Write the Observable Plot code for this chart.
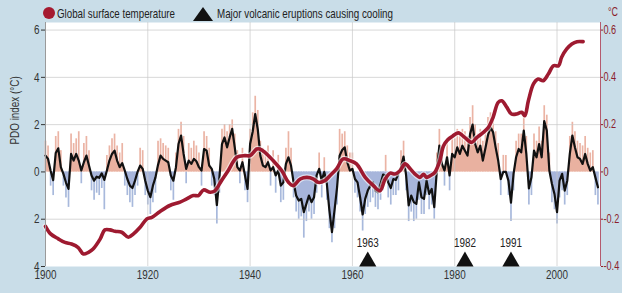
<!DOCTYPE html>
<html><head><meta charset="utf-8">
<script src="https://cdn.jsdelivr.net/npm/d3@7"></script>
<script src="https://cdn.jsdelivr.net/npm/@observablehq/plot@0.6"></script>
<style>
html,body{margin:0;padding:0;background:#c9dde8;}
#wrap{position:relative;width:622px;height:293px;overflow:hidden;}
#chart{position:absolute;left:0;top:0;}
#legend{position:absolute;left:0;top:0;font-family:"Liberation Sans",Arial,sans-serif;font-size:13px;}
</style></head><body>
<div id="wrap">
  <div id="chart"></div>
  <svg id="legend" width="622" height="22">
    <circle cx="49" cy="13" r="6" fill="#a5192f"></circle>
    <text x="57" y="18" fill="#222" textLength="118" lengthAdjust="spacingAndGlyphs">Global surface temperature</text>
    <polygon points="193,21 213,21 203,7" fill="#111"></polygon>
    <text x="217" y="18" fill="#222" textLength="176" lengthAdjust="spacingAndGlyphs">Major volcanic eruptions causing cooling</text>
    <text x="608" y="16" fill="#8b1d2c" textLength="10" lengthAdjust="spacingAndGlyphs">°C</text>
  </svg>
</div>
<script>
// ---- data ----
const pdoStart = 1900;      // first half-year sample
const pdoStep = 0.5;        // half-year samples
const pdoSmooth = [
  0.69,0.55, 0.05,-0.35, 0.8,1.0, 0.2,-0.08, -0.45,-0.72,
  0.76,0.48, 0.76,0.48, 0.06,0.41, 0.69,0.27, -0.15,-0.37,
  -0.2,-0.25, -0.06,-0.34, 0.06,0.48, 0.76,0.9, 0.48,0.2,
  0.37,0.06, -0.3,-0.58, -0.68,-0.37, 0.0,0.27, 0.13,-0.37,
  -0.79,-1.07, -0.58,-0.23, 0.3,0.69, 0.55,0.48, 0.41,-0.15,
  -0.37,0.2, 1.18,1.54, 0.76,0.13, 0.48,0.34, 0.55,0.45,
  0.2,0.06, 0.97,0.9, 0.27,0.13, -0.3,-1.4, -0.23,1.18,
  1.46,1.04, 1.46,1.82, 1.04,0.2, 0.06,0.41, -0.15,-0.72,
  1.18,1.7, 2.45,1.8, 0.69,0.27, 0.2,0.41, 0.06,0.2,
  -0.15,0.06, -0.58,-0.44, 0.34,0.62, 0.27,-0.44, -1.0,-1.21,
  -1.14,-1.7, -1.35,-1.0, -1.28,-1.07, -0.15,0.13, -0.37,0.0,
  -0.5,-1.63, -2.55,-1.63, -0.65,0.69, 0.93,1.04, 0.41,0.06,
  0.13,-0.3, -0.44,-1.07, -1.8,-1.14, -0.79,-0.58, -0.44,-0.79,
  -0.86,-0.5, -0.11,-0.15, -0.44,-0.68, -0.3,-0.34, -0.06,0.2,
  0.65,-0.15, -1.42,-1.0, -1.28,-1.35, -0.44,-1.07, -1.14,-0.37,
  -0.93,-0.72, -1.49,0.06, 1.11,0.34, 0.06,0.62, -0.15,0.76,
  0.62,1.04, 0.76,1.11, 0.9,0.69, 1.6,2.0, 1.18,0.83,
  1.11,0.48, 1.0,1.55, 1.89,1.68, 1.04,0.48, -0.3,0.0,
  0.0,-0.37, -1.3,-0.08, 0.62,0.97, 0.83,1.75, 0.76,-0.7,
  -0.23,0.9, 0.62,1.18, 0.62,2.15, 1.75,0.06, -0.5,-0.93,
  -1.7,-0.37, -0.08,-0.79, -0.37,0.76, 1.54,1.04, 0.62,0.55,
  0.34,0.76, 0.34,0.06, 0.2,-0.23, -0.65
];
const pdoMonthlyPeaks = [
  1.3,1.1, -0.6,-1.0, 1.5,1.7, 0.9,-0.6, -1.1,-1.5,
  1.6,1.2, 1.4,1.7, -0.5,1.2, 1.5,0.9, -0.8,-1.2,
  -0.9,-1.0, -0.7,-1.6, 0.7,1.1, 1.4,1.6, 1.1,0.8,
  1.2,-0.6, -1.0,-1.3, -1.5,-1.0, -0.6,1.0, 0.9,-1.0,
  -1.4,-1.8, -1.3,-0.9, 1.3,1.4, 1.2,1.1, 1.0,-0.8,
  -1.2,0.8, 1.8,2.1, 1.5,-0.5, 1.2,1.0, 1.3,1.1,
  0.8,-0.6, 1.7,1.5, 1.0,-0.6, -1.0,-2.2, -0.9,1.8,
  2.0,1.7, 2.0,2.2, 1.6,0.9, -0.5,1.0, -0.8,-1.3,
  1.8,2.5, 3.2,2.6, 1.3,1.0, 0.9,1.1, -0.6,0.9,
  -0.9,0.7, -1.3,-1.2, 1.0,1.7, 1.0,-1.1, -1.7,-2.0,
  -1.9,-2.8, -2.1,-1.7, -2.0,-1.8, -0.9,0.8, -1.1,0.6,
  -1.2,-2.4, -3.0,-2.4, -1.4,1.8, 1.6,1.7, 1.1,0.8,
  0.8,-0.9, -1.1,-1.7, -2.5,-1.8, -1.5,-1.3, -1.1,-1.5,
  -1.6,-1.2, -0.8,0.7, -1.1,-1.4, -1.0,-1.0, -0.8,0.9,
  1.3,-0.8, -2.1,-1.7, -2.1,-2.0, -1.2,-1.8, -1.8,-1.0,
  -1.6,-1.4, -2.0,0.8, 1.8,1.0, -0.6,1.4, -0.8,1.5,
  1.4,1.8, 1.6,1.8, 1.7,1.5, 2.3,2.8, 2.0,1.6,
  1.8,1.3, 1.7,2.3, 2.5,2.3, 1.7,1.2, -1.0,0.7,
  0.7,-1.0, -2.1,-0.8, 1.3,1.6, 1.6,2.5, 1.5,-1.4,
  -1.0,1.6, 1.3,1.9, 1.3,2.8, 2.4,0.8, -1.3,-1.6,
  -2.2,-1.1, -0.8,-1.4, -1.0,1.5, 2.1,1.7, 1.3,1.2,
  1.1,1.5, 1.0,0.8, 0.9,-1.0, -1.4
];
const tempYears = [1900,1901,1902.5,1903.8,1905.1,1906.4,1907.4,1908.4,1909.3,1910.7,1911.6,1912.6,1913.6,1914.9,1916.2,1917.2,1918.5,1919.8,1920.8,1922.4,1924.3,1926.3,1927.6,1928.9,1929.9,1930.9,1932.2,1933.1,1934.4,1935.7,1937.4,1939,1940,1941.3,1941.9,1942.9,1944.5,1946.2,1947.5,1948.4,1949.8,1951.1,1952.4,1953.3,1954.6,1955.6,1956.9,1958.2,1959.5,1960.8,1962.5,1964.1,1965.4,1966.4,1967.4,1968.3,1969.3,1970.3,1971.3,1972.2,1973.2,1973.9,1974.5,1975.2,1976.1,1977.1,1977.8,1978.6,1979.5,1980.7,1982,1983.3,1984.3,1985.6,1986.6,1987.5,1988.5,1989.2,1990.2,1991.1,1992.1,1993.1,1993.7,1994.4,1995.4,1996.3,1997.3,1998.3,1999.3,2000.3,2000.9,2001.9,2002.9,2003.9,2005.1];
const tempAnomaly = [-0.23,-0.262,-0.283,-0.298,-0.305,-0.32,-0.347,-0.34,-0.326,-0.283,-0.245,-0.245,-0.251,-0.255,-0.276,-0.262,-0.234,-0.199,-0.192,-0.167,-0.142,-0.128,-0.114,-0.1,-0.1,-0.076,-0.086,-0.08,-0.037,0.005,0.062,0.069,0.069,0.097,0.097,0.083,0.048,0.005,-0.044,-0.058,-0.03,-0.023,-0.03,-0.044,-0.037,-0.016,0.013,0.055,0.048,0.034,-0.023,-0.058,-0.08,-0.03,-0.005,-0.009,0.005,0.034,0.013,-0.008,-0.023,-0.01,-0.023,-0.016,-0.002,0.048,0.11,0.135,0.15,0.165,0.145,0.125,0.145,0.167,0.189,0.231,0.294,0.301,0.273,0.245,0.245,0.252,0.238,0.301,0.372,0.393,0.386,0.414,0.449,0.449,0.485,0.52,0.541,0.551,0.551];
const eruptionYears = [1963, 1982, 1991];
const pdoTicks = [-4, -2, 0, 2, 4, 6];
const pdoTickLabels = ["4", "2", "0", "2", "4", "6"];
const tempTickLabels = ["-0.4", "-0.2", "0", "0.2", "0.4", "0.6"];
const yearTicks = [1900, 1920, 1940, 1960, 1980, 2000];

// ---- tables built from the arrays ----
const smooth = pdoSmooth.map((v, i) => ({t: pdoStart + i * pdoStep, v}));
const filled = [];
smooth.forEach((a, i) => {
  filled.push(a);
  const b = smooth[i + 1];
  if (b && a.v * b.v < 0) filled.push({t: a.t + (b.t - a.t) * a.v / (a.v - b.v), v: 0});
});
const bars = pdoMonthlyPeaks.map((v, i) => ({t: pdoStart + i * pdoStep, v}));
// temperature shares the frame: 0.1 °C on the right axis = 1 PDO unit on the left
const temp = tempYears.map((t, i) => ({t, v: tempAnomaly[i] * 10}));

const font = '"Liberation Sans",Arial,sans-serif';
const chart = Plot.plot({
  width: 622, height: 293,
  marginLeft: 45, marginRight: 22, marginTop: 22, marginBottom: 27,
  style: {background: "transparent", fontFamily: font, fontSize: "13px", color: "#333"},
  x: {domain: [1900, 2008.5]},
  y: {domain: [-4, 6.32]},
  marks: [
    Plot.frame({fill: "white", stroke: null}),
    Plot.ruleX(bars, {x: "t", y1: 0, y2: "v", stroke: d => d.v >= 0 ? "#ebb4a5" : "#a8b9dc", strokeWidth: 1.7}),
    Plot.areaY(filled, {x: "t", y1: 0, y2: d => Math.max(0, d.v), fill: "#e9b1a0"}),
    Plot.areaY(filled, {x: "t", y1: 0, y2: d => Math.min(0, d.v), fill: "#a7b5db"}),
    Plot.gridX(yearTicks.slice(1), {stroke: "#c8c8c8", strokeOpacity: 0.7}),
    Plot.gridY([-2, 2, 4, 6], {stroke: "#c8c8c8", strokeOpacity: 0.7}),
    Plot.lineY(smooth, {x: "t", y: "v", stroke: "#111", strokeWidth: 2.2, strokeLinejoin: "round"}),
    Plot.lineY(temp, {x: "t", y: "v", stroke: "white", strokeWidth: 6, strokeOpacity: 0.6, curve: "catmull-rom"}),
    Plot.lineY(temp, {x: "t", y: "v", stroke: "#9e1a30", strokeWidth: 3.6, curve: "catmull-rom"}),
    Plot.dot(eruptionYears, {x: d => d, y: -4, dy: -5, symbol: "triangle", r: 6.4, fill: "#111", stroke: null}),
    Plot.text(eruptionYears, {x: d => d, y: -4, dy: -24, text: d => String(d), fontSize: 13, fill: "#222"}),
    Plot.ruleX([1900], {stroke: "#9a9a9a"}),
    Plot.ruleX([2008.5], {stroke: "#b45a6e"}),
    Plot.axisY(pdoTicks, {anchor: "left", tickSize: 4, tickPadding: 2, fontSize: 13, color: "#333",
      tickFormat: d => pdoTickLabels[pdoTicks.indexOf(d)], label: null}),
    Plot.axisY(pdoTicks, {anchor: "right", tickSize: 2, tickPadding: 1, fontSize: 12, color: "#8b1d2c",
      tickFormat: d => tempTickLabels[pdoTicks.indexOf(d)], label: null}),
    Plot.axisX(yearTicks, {anchor: "bottom", tickSize: 0, tickPadding: 3, fontSize: 13, color: "#333",
      tickFormat: d => String(d), label: null}),
    Plot.text(["PDO index (°C)"], {frameAnchor: "left", dx: -31, rotate: -90, fontSize: 13, fill: "#333"})
  ]
});
document.getElementById("chart").appendChild(chart);
// condensed look: narrow every label horizontally
chart.querySelectorAll("text").forEach(t => {
  const L = t.getComputedTextLength();
  if (L > 0) { t.setAttribute("textLength", (L * 0.76).toFixed(1)); t.setAttribute("lengthAdjust", "spacingAndGlyphs"); }
});
</script>
</body></html>
